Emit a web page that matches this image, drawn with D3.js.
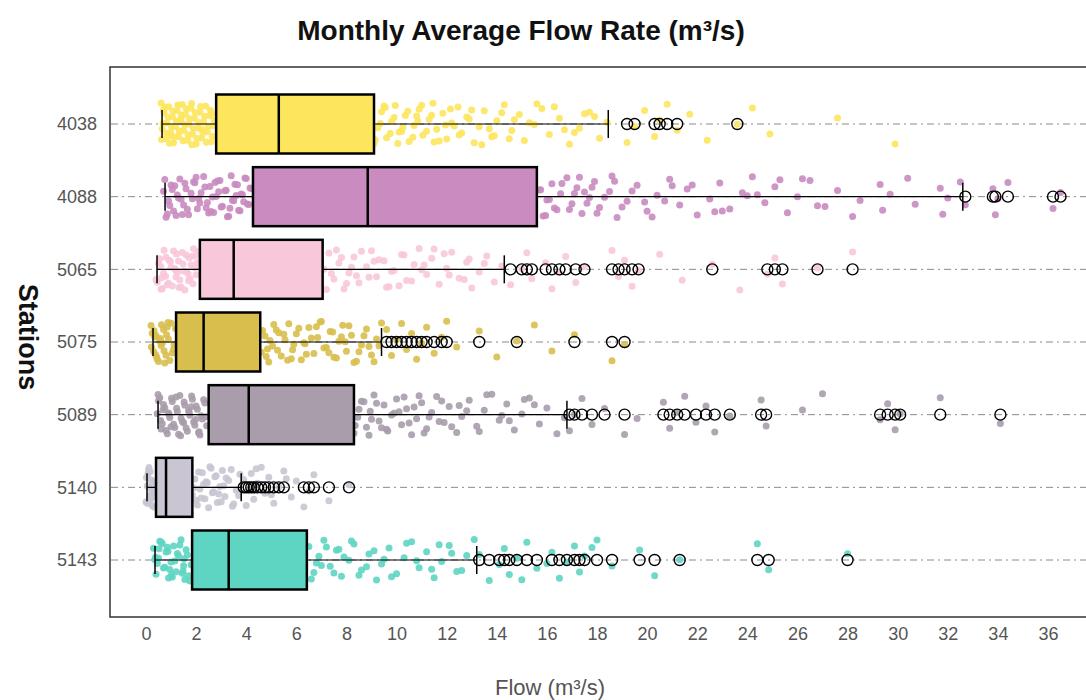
<!DOCTYPE html>
<html>
<head>
<meta charset="utf-8">
<script src="https://cdn.jsdelivr.net/npm/d3@7"></script>
<style>
  body { margin: 0; background: #fff; }
  svg { display: block; font-family: "Liberation Sans", Arial, sans-serif; }
</style>
</head>
<body>
<svg id="mainSVG" width="1086" height="700"></svg>
<script>
// Stations, top to bottom
var stations = ["4038", "4088", "5065", "5075", "5089", "5140", "5143"];
var colors = ["#FDE65E", "#C98BC0", "#F8C7DA", "#D8BF4D", "#A99CAB", "#C9C5D3", "#5ED5C2"];

// Box statistics (m3/s)
var whiskerLow  = [0.64, 0.76, 0.44, 0.28, 0.48, 0.04, 0.36];
var q1          = [2.8, 4.27, 2.15, 1.2, 2.5, 0.4, 1.84];
var median      = [5.3, 8.85, 3.5, 2.3, 4.1, 0.8, 3.3];
var q3          = [9.1, 15.6, 7.05, 4.56, 8.3, 1.85, 6.42];
var whiskerHigh = [18.45, 32.6, 14.3, 9.4, 16.8, 3.8, 13.2];

// Outliers (open circles)
var out4038 = [19.2, 19.5, 20.3, 20.5, 20.8, 21.2, 23.6];
var out4088 = [32.7, 33.8, 33.9, 34.4, 36.2, 36.5];
var out5065 = [14.55, 15.0, 15.2, 15.4, 15.95, 16.2, 16.5, 16.75, 17.15, 17.5, 18.6, 18.86, 19.1, 19.4, 19.66, 22.6, 24.8, 25.1, 25.4, 26.8, 28.2];
var out5075 = [9.6, 9.8, 10.0, 10.2, 10.4, 10.6, 10.8, 11.0, 11.2, 11.5, 11.8, 12.0, 13.3, 14.8, 17.1, 18.6, 19.1];
var out5089 = [16.9, 17.1, 17.4, 17.8, 18.3, 19.1, 20.65, 20.9, 21.2, 21.5, 21.95, 22.35, 22.7, 23.3, 24.55, 24.75, 29.3, 29.6, 29.9, 30.1, 31.7, 34.1];
var out5140 = [3.9, 4.0, 4.1, 4.2, 4.3, 4.45, 4.6, 4.75, 4.9, 5.1, 5.3, 5.5, 6.3, 6.5, 6.7, 7.3, 8.1];
var out5143 = [13.3, 13.7, 14.1, 14.3, 14.5, 14.8, 15.2, 15.6, 16.2, 16.5, 16.8, 17.1, 17.3, 17.5, 18.0, 18.6, 19.7, 20.3, 21.3, 24.4, 24.85, 28.0];

// Jittered observations
var flow4038 = [0.6, 0.65, 0.72, 0.8, 0.84, 0.91, 0.98, 1.05, 1.1, 1.18, 1.24, 1.3, 1.37, 1.45, 1.5, 1.58, 1.66, 1.7, 1.79, 1.86, 1.93, 2.0, 2.08, 2.15, 2.22, 2.3, 2.38, 2.45, 2.53, 2.6, 2.68, 0.7, 1.0, 1.4, 1.82, 2.25, 2.62,
  0.62, 0.68, 0.76, 0.82, 0.88, 0.94, 1.02, 1.08, 1.14, 1.21, 1.27, 1.33, 1.41, 1.48, 1.54, 1.61, 1.68, 1.74, 1.83, 1.89, 1.97, 2.04, 2.11, 2.18, 2.27, 2.34, 2.41, 2.49, 2.57, 2.65, 2.72,
  3.1, 3.8, 4.6, 5.3, 6.2, 7.0, 7.9, 8.7,
  9.1, 9.25, 9.4, 9.6, 9.8, 9.95, 10.2, 10.35, 10.5, 10.7, 10.9, 11.05, 11.3, 11.45, 11.6, 11.85, 12.0, 12.2, 12.45, 12.6, 12.8, 13.1, 13.3, 13.5, 13.8, 14.0, 14.3, 14.6, 14.9, 15.1, 15.5, 15.8, 16.1, 16.5, 16.9, 17.3, 17.7, 18.1, 18.4,
  9.5, 10.1, 10.8, 11.5, 12.3, 13.0, 13.9, 14.7, 15.6, 16.7, 17.5,
  9.15, 9.35, 9.55, 9.75, 9.9, 10.05, 10.25, 10.45, 10.65, 10.85, 11.0, 11.2, 11.4, 11.7, 11.95, 12.15, 12.5, 12.9, 13.4, 13.7, 14.2, 14.5, 15.3, 16.3, 17.1, 17.9,
  19.2, 19.5, 19.9, 20.3, 20.5, 20.8, 21.2, 21.7, 22.4, 23.6, 24.2, 24.9, 27.6, 29.9];
var flow4088 = [0.7, 0.8, 0.9, 1.0, 1.1, 1.25, 1.35, 1.5, 1.6, 1.7, 1.85, 1.95, 2.05, 2.2, 2.3, 2.45, 2.55, 2.7, 2.8, 2.95, 3.05, 3.2, 3.3, 3.45, 3.55, 3.7, 3.8, 3.95, 4.05, 4.15, 0.85, 1.3, 1.9, 2.4, 2.9, 3.4, 3.9, 1.15, 2.6, 3.6,
  0.75, 0.95, 1.05, 1.2, 1.4, 1.55, 1.65, 1.8, 2.0, 2.15, 2.35, 2.5, 2.65, 2.85, 3.0, 3.15, 3.25, 3.5, 3.65, 3.75, 3.85, 4.0, 4.1, 4.2, 1.45, 2.1, 2.75, 3.35,
  5.0, 6.3, 7.5, 9.5, 11.0, 12.4, 13.8, 15.0,
  15.7, 15.85, 16.0, 16.2, 16.4, 16.55, 16.8, 17.0, 17.2, 17.4, 17.7, 17.9, 18.1, 18.5, 18.8, 19.2, 19.6, 20.0, 20.4, 20.9, 21.3, 21.6, 22.0, 22.5, 22.9, 23.3, 23.8, 24.2, 24.7, 25.1, 25.6, 26.0, 26.5, 27.1, 27.6, 28.2, 28.5, 29.3, 29.4, 29.7, 30.4, 30.7, 31.7, 31.8, 32.0, 32.5,
  16.3, 17.5, 18.6, 19.9, 21.0, 22.7, 24.0, 25.3, 26.8,
  15.75, 15.95, 16.1, 16.6, 16.9, 17.1, 17.3, 17.6, 17.8, 18.0, 18.3, 18.7, 19.0, 19.4, 20.2, 20.7, 21.8, 23.0, 24.4, 26.2,
  32.7, 33.8, 33.9, 34.0, 34.4, 36.2, 36.5];
var flow5065 = [0.4, 0.5, 0.6, 0.7, 0.8, 0.9, 1.0, 1.1, 1.2, 1.3, 1.4, 1.5, 1.6, 1.7, 1.8, 1.9, 2.0, 0.55, 0.85, 1.15, 1.45, 1.75, 2.05, 0.65, 1.25, 1.85,
  0.45, 0.58, 0.72, 0.78, 0.92, 1.05, 1.18, 1.22, 1.35, 1.48, 1.55, 1.68, 1.72, 1.88, 1.95, 2.1, 0.62, 0.98, 1.32, 1.62, 1.98,
  2.6, 3.2, 4.1, 5.0, 5.9, 6.6,
  7.1, 7.3, 7.5, 7.7, 7.9, 8.1, 8.3, 8.5, 8.8, 9.0, 9.2, 9.5, 9.7, 9.9, 10.2, 10.4, 10.7, 10.9, 11.2, 11.4, 11.7, 12.0, 12.2, 12.5, 12.8, 13.0, 13.3, 13.6, 13.9, 14.2,
  7.6, 8.4, 9.3, 10.1, 11.0, 11.9, 12.7, 13.5,
  7.2, 7.4, 7.8, 8.0, 8.2, 8.6, 8.9, 9.1, 9.6, 9.8, 10.3, 10.6, 11.1, 11.5, 12.1, 12.9,
  14.55, 15.0, 15.2, 15.4, 15.95, 16.2, 16.5, 16.75, 17.15, 17.5, 18.6, 18.86, 19.1, 19.4, 19.66, 20.5, 21.4, 22.6, 23.7, 24.8, 25.1, 25.4, 26.8, 28.2];
var flow5075 = [0.2, 0.3, 0.4, 0.5, 0.6, 0.7, 0.8, 0.9, 1.0, 1.1, 0.25, 0.45, 0.65, 0.85, 1.05, 0.35, 0.75,
  0.22, 0.32, 0.42, 0.55, 0.62, 0.72, 0.82, 0.95, 1.12, 1.18, 0.38, 0.58, 0.88,
  1.5, 2.0, 2.7, 3.4, 4.1,
  4.6, 4.75, 4.9, 5.05, 5.2, 5.4, 5.55, 5.7, 5.85, 6.0, 6.2, 6.35, 6.5, 6.7, 6.85, 7.0, 7.2, 7.35, 7.5, 7.7, 7.85, 8.0, 8.2, 8.4, 8.6, 8.8, 9.0, 9.2, 9.4,
  4.85, 5.3, 5.8, 6.3, 6.8, 7.3, 7.8, 8.3, 8.9,
  4.65, 4.8, 4.95, 5.1, 5.25, 5.5, 5.65, 5.9, 6.1, 6.4, 6.6, 6.95, 7.1, 7.45, 7.6, 7.95, 8.1, 8.5, 8.7, 9.1, 9.3,
  9.6, 9.8, 10.0, 10.2, 10.4, 10.6, 10.8, 11.0, 11.2, 11.5, 11.8, 12.0, 12.4, 13.3, 14.0, 14.8, 15.5, 16.2, 17.1, 18.6, 19.1];
var flow5089 = [0.45, 0.55, 0.65, 0.75, 0.85, 0.95, 1.05, 1.15, 1.25, 1.35, 1.45, 1.55, 1.65, 1.75, 1.85, 1.95, 2.05, 2.15, 2.25, 2.35, 0.6, 0.9, 1.2, 1.5, 1.8, 2.1, 2.4, 0.5, 1.0, 1.7,
  0.48, 0.58, 0.7, 0.8, 0.92, 1.02, 1.1, 1.22, 1.3, 1.4, 1.52, 1.6, 1.72, 1.82, 1.9, 2.0, 2.12, 2.2, 2.3, 2.42, 0.68, 1.38, 1.98,
  3.0, 3.6, 4.5, 5.4, 6.3, 7.2,
  8.3, 8.45, 8.6, 8.8, 8.95, 9.1, 9.3, 9.5, 9.65, 9.8, 10.0, 10.2, 10.4, 10.6, 10.8, 11.0, 11.2, 11.4, 11.6, 11.9, 12.1, 12.4, 12.6, 12.9, 13.2, 13.5, 13.8, 14.1, 14.4, 14.7, 15.0, 15.3, 15.7, 16.0, 16.4, 16.7,
  8.7, 9.4, 10.1, 10.9, 11.7, 12.5, 13.3, 14.2, 15.1,
  8.35, 8.5, 8.9, 9.0, 9.2, 9.6, 9.9, 10.3, 10.5, 10.7, 11.1, 11.3, 11.8, 12.2, 12.8, 13.6, 14.5, 15.5,
  16.9, 17.1, 17.4, 17.8, 18.3, 19.1, 19.6, 20.65, 20.9, 21.2, 21.5, 21.95, 22.35, 22.7, 23.3, 24.55, 24.75, 26.2, 27.0, 29.3, 29.6, 29.9, 30.1, 31.7, 34.1];
var flow5140 = [0.0, 0.05, 0.1, 0.15, 0.2, 0.25, 0.3, 0.08, 0.18, 0.28, 0.12, 0.22,
  0.02, 0.07, 0.13, 0.17, 0.23, 0.27, 0.33, 0.36,
  0.5, 0.9, 1.3, 1.6,
  1.85, 1.95, 2.05, 2.15, 2.25, 2.35, 2.45, 2.55, 2.65, 2.75, 2.85, 2.95, 3.05, 3.15, 3.3, 3.45, 3.6, 3.75, 2.0, 2.3, 2.6, 2.9, 3.2, 3.5,
  1.9, 2.1, 2.2, 2.4, 2.5, 2.7, 2.8, 3.0, 3.1, 3.4, 3.7,
  3.9, 4.0, 4.1, 4.2, 4.3, 4.45, 4.6, 4.75, 4.9, 5.1, 5.3, 5.5, 5.8, 6.0, 6.3, 6.5, 6.7, 7.3, 8.1, 4.4, 5.0, 5.6];
var flow5143 = [0.3, 0.4, 0.5, 0.6, 0.7, 0.8, 0.9, 1.0, 1.1, 1.2, 1.3, 1.4, 1.5, 1.6, 1.7, 0.35, 0.65, 0.95, 1.25, 1.55, 0.45, 0.85, 1.45,
  0.38, 0.55, 0.75, 0.88, 1.05, 1.15, 1.35, 1.48, 1.65, 1.75, 1.8, 0.52, 1.02, 1.52,
  2.2, 2.9, 3.8, 4.7, 5.6,
  6.5, 6.7, 6.9, 7.1, 7.35, 7.6, 7.8, 8.1, 8.3, 8.6, 8.9, 9.2, 9.4, 9.7, 10.0, 10.3, 10.6, 10.9, 11.2, 11.5, 11.8, 12.1, 12.4, 12.8, 13.1,
  7.0, 7.7, 8.5, 9.5, 10.4, 11.4, 12.2,
  6.6, 6.8, 7.2, 7.5, 7.9, 8.2, 8.8, 9.1, 9.8, 10.8, 11.7, 12.6,
  13.3, 13.7, 14.1, 14.3, 14.5, 14.8, 15.2, 15.6, 16.2, 16.5, 16.8, 17.1, 17.3, 17.5, 18.0, 18.6, 19.7, 20.3, 21.3, 24.4, 24.85, 28.0, 15.0, 16.0, 17.8];

var flows = [flow4038, flow4088, flow5065, flow5075, flow5089, flow5140, flow5143];
var outliers = [out4038, out4088, out5065, out5075, out5089, out5140, out5143];
var xTicks = [0, 2, 4, 6, 8, 10, 12, 14, 16, 18, 20, 22, 24, 26, 28, 30, 32, 34, 36];

var mainSVG = d3.select("#mainSVG");

// panel
var panel = {left: 110, top: 67, right: 1092, bottom: 617};

var xScale = d3.scaleLinear().domain([0, 36]).range([146, 1048]);
var yScale = d3.scalePoint().domain(stations).range([124, 560]);
var boxH = 59;

// panel border
mainSVG.append("rect")
  .attr("x", panel.left).attr("y", panel.top)
  .attr("width", panel.right - panel.left).attr("height", panel.bottom - panel.top)
  .attr("fill", "none").attr("stroke", "#333").attr("stroke-width", 1.5);

// dash-dot guide lines
mainSVG.append("g").selectAll("line")
  .data(stations).enter().append("line")
  .attr("x1", panel.left + 1).attr("x2", panel.right)
  .attr("y1", function(d) { return yScale(d); })
  .attr("y2", function(d) { return yScale(d); })
  .attr("stroke", "#8a8a8a").attr("stroke-width", 1)
  .attr("stroke-dasharray", "7,4,2,4");

// jittered points
stations.forEach(function(s, k) {
  mainSVG.append("g").selectAll("circle")
    .data(flows[k]).enter().append("circle")
    .attr("cx", function(d) { return xScale(d); })
    .attr("cy", function(d, i) {
      var j = ((i * 0.618034 + k * 0.37) % 1) - 0.5;
      return yScale(s) + j * 42;
    })
    .attr("r", 3.5)
    .attr("fill", colors[k])
    .attr("opacity", 0.9);
});

// boxes
var boxes = mainSVG.append("g").selectAll("g")
  .data(stations).enter().append("g");

// whisker lines
boxes.append("line")
  .attr("x1", function(d, i) { return xScale(whiskerLow[i]); })
  .attr("x2", function(d, i) { return xScale(whiskerHigh[i]); })
  .attr("y1", function(d) { return yScale(d); })
  .attr("y2", function(d) { return yScale(d); })
  .attr("stroke", "#000").attr("stroke-width", 1.2);

// whisker caps
[whiskerLow, whiskerHigh].forEach(function(w) {
  boxes.append("line")
    .attr("x1", function(d, i) { return xScale(w[i]); })
    .attr("x2", function(d, i) { return xScale(w[i]); })
    .attr("y1", function(d) { return yScale(d) - 14; })
    .attr("y2", function(d) { return yScale(d) + 14; })
    .attr("stroke", "#000").attr("stroke-width", 1.5);
});

boxes.append("rect")
  .attr("x", function(d, i) { return xScale(q1[i]); })
  .attr("width", function(d, i) { return xScale(q3[i]) - xScale(q1[i]); })
  .attr("y", function(d) { return yScale(d) - boxH / 2; })
  .attr("height", boxH)
  .attr("fill", function(d, i) { return colors[i]; })
  .attr("stroke", "#000").attr("stroke-width", 2.5);

boxes.append("line")
  .attr("x1", function(d, i) { return xScale(median[i]); })
  .attr("x2", function(d, i) { return xScale(median[i]); })
  .attr("y1", function(d) { return yScale(d) - boxH / 2; })
  .attr("y2", function(d) { return yScale(d) + boxH / 2; })
  .attr("stroke", "#000").attr("stroke-width", 2.5);

// outlier circles
stations.forEach(function(s, k) {
  mainSVG.append("g").selectAll("circle")
    .data(outliers[k]).enter().append("circle")
    .attr("cx", function(d) { return xScale(d); })
    .attr("cy", yScale(s))
    .attr("r", 5.5)
    .attr("fill", "none")
    .attr("stroke", "#000").attr("stroke-width", 1.4);
});

// axes
var xAxis = d3.axisBottom(xScale).tickValues(xTicks).tickSize(0).tickPadding(0);
var xAxisGroup = mainSVG.append("g")
  .attr("transform", "translate(0," + (panel.bottom + 10) + ")")
  .call(xAxis);
xAxisGroup.select(".domain").remove();
xAxisGroup.selectAll("text")
  .attr("dy", "0.71em")
  .style("font-size", "18px").style("fill", "#555")
  .style("font-family", "'Liberation Sans', Arial, sans-serif");

var yAxis = d3.axisLeft(yScale).tickSize(0).tickPadding(0);
var yAxisGroup = mainSVG.append("g")
  .attr("transform", "translate(97,0)")
  .call(yAxis);
yAxisGroup.select(".domain").remove();
yAxisGroup.selectAll("text")
  .style("font-size", "18px").style("fill", "#555")
  .style("font-family", "'Liberation Sans', Arial, sans-serif");

// titles
mainSVG.append("text")
  .attr("x", 521).attr("y", 40)
  .attr("text-anchor", "middle")
  .style("font-size", "28px").style("font-weight", "bold").style("fill", "#111")
  .text("Monthly Average Flow Rate (m³/s)");

mainSVG.append("text")
  .attr("x", 550).attr("y", 695)
  .attr("text-anchor", "middle")
  .style("font-size", "22px").style("fill", "#555")
  .text("Flow (m³/s)");

mainSVG.append("text")
  .attr("transform", "translate(19,337) rotate(90)")
  .attr("text-anchor", "middle")
  .style("font-size", "27px").style("font-weight", "bold").style("fill", "#111")
  .text("Stations");
</script>
</body>
</html>
